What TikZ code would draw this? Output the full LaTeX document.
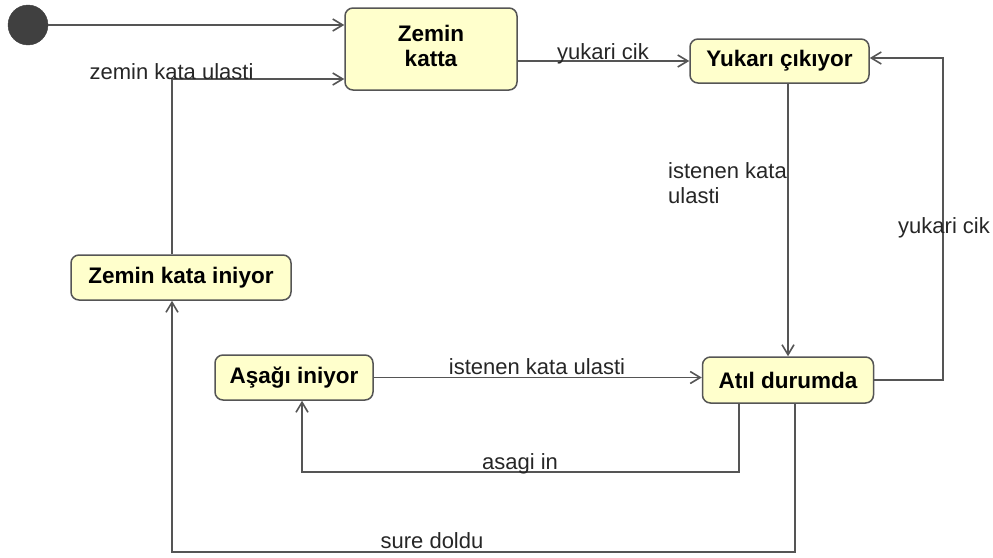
\documentclass[tikz,border=0pt]{standalone}
\usepackage{fontspec}
\setmainfont{Liberation Sans}
\usetikzlibrary{arrows.meta}
\definecolor{statefill}{HTML}{FFFFCC}
\definecolor{edgegray}{HTML}{555555}
\definecolor{initfill}{HTML}{404040}
\definecolor{labeltext}{HTML}{262626}

\begin{document}
\begin{tikzpicture}[x=1pt, y=-1pt,
  state/.style={draw=edgegray, fill=statefill, line width=1.5pt,
    rounded corners=8pt, inner sep=0pt,
    font=\fontsize{22.5}{25}\selectfont\bfseries, text=black},
  trans/.style={draw=edgegray, line width=1.6pt,
    -{Straight Barb[length=10pt, width=12pt, line width=1.6pt]}},
  lbl/.style={font=\fontsize{22}{25}\selectfont, text=labeltext, inner sep=0pt}]

\path[use as bounding box] (0,0) rectangle (993,557);

% states
\node[circle, fill=initfill, draw=initfill, minimum size=40pt, inner sep=0pt] (init) at (28,25) {};
\node[state, minimum width=172pt, minimum height=82pt, align=center, text depth=7pt] (zk) at (431,49) {Zemin\\katta};
\node[state, minimum width=179pt, minimum height=44pt] (yc) at (779.5,61) {Yukarı çıkıyor};
\node[state, minimum width=220pt, minimum height=45pt] (zki) at (181,277.5) {Zemin kata iniyor};
\node[state, minimum width=158pt, minimum height=45pt] (ai) at (294,377.5) {Aşağı iniyor};
\node[state, minimum width=171pt, minimum height=46pt] (ad) at (788,380) {Atıl durumda};

% bend points of the routed transitions
\coordinate (upL) at (172,79);
\coordinate (loopR) at (943,58);
\coordinate (downR) at (739,472);
\coordinate (downL) at (302,472);
\coordinate (timeR) at (795,552);
\coordinate (timeL) at (172,552);

% transitions
\draw[trans] (init) -- (init -| zk.west);
\draw[trans] (zki.north -| upL) |- (zk.west |- upL);
\draw[trans] (zk.east |- yc.west) -- (yc.west);
\draw[trans] (ad.north |- yc.south) -- (ad.north);
\draw[trans] (ad.east) -| (loopR) -- (yc.east |- loopR);
\draw[trans] (ai.east) -- (ai.east -| ad.west);
\draw[trans] (ad.south -| downR) |- (downL) -- (ai.south -| downL);
\draw[trans] (ad.south -| timeR) |- (timeL) -- (zki.south -| timeL);

% transition labels
\node[lbl, anchor=base] (l1) at (171.5,79) {zemin kata ulasti};
\node[lbl, anchor=base] (l2) at (603,59) {yukari cik};
\node[lbl, anchor=base west, align=left] (l3) at (668,203) {istenen kata\\ulasti};
\node[lbl, anchor=base west] (l4) at (898,233) {yukari cik};
\node[lbl, anchor=base] (l5) at (537,374) {istenen kata ulasti};
\node[lbl, anchor=base] (l6) at (520,469) {asagi in};
\node[lbl, anchor=base] (l7) at (432,548) {sure doldu};
\end{tikzpicture}
\end{document}
